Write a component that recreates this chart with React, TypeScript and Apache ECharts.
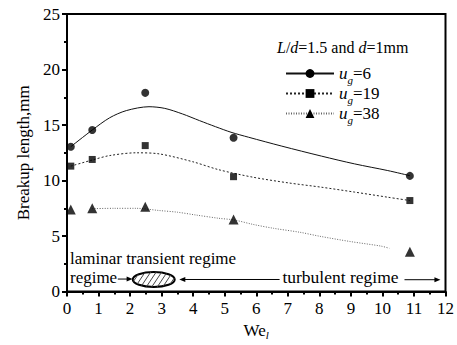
import React, { useEffect, useRef } from "react";
import * as echarts from "echarts";

const FONT = "Liberation Serif";

// Axis ranges and tick steps
const X_MIN = 0;
const X_MAX = 12;
const X_STEP = 1;
const Y_MIN = 0;
const Y_MAX = 25;
const Y_STEP = 5;

// Measured breakup length (mm) against liquid Weber number We_l
const weL = [0.12, 0.8, 2.48, 5.28, 10.87];
const lenUg6 = [13.05, 14.55, 17.9, 13.85, 10.42];
const lenUg19 = [11.3, 11.9, 13.15, 10.35, 8.2];
const lenUg38 = [7.4, 7.5, 7.65, 6.5, 3.6];

// Trend curves through each gas-velocity set
const fit6We = [0.12, 0.8, 1.35, 1.88, 2.6, 3.1, 3.66, 4.2, 4.71, 5.2, 5.76, 6.81, 8.07, 9.12, 10.17, 10.87];
const fit6Len = [13.05, 14.55, 15.65, 16.3, 16.65, 16.5, 16.0, 15.4, 14.85, 14.35, 13.9, 13.1, 12.2, 11.5, 10.9, 10.44];
const fit19We = [0.12, 0.8, 1.35, 2.2, 2.93, 3.98, 4.82, 5.9, 7.02, 8.07, 9.12, 10.17, 10.87];
const fit19Len = [11.3, 11.85, 12.25, 12.5, 12.4, 11.7, 10.97, 10.3, 9.79, 9.4, 8.96, 8.5, 8.2];
const fit38We = [0.8, 1.5, 2.2, 2.93, 3.5, 4.08, 4.82, 5.3, 5.9, 6.55, 7.39, 8.02, 9.0, 9.95, 10.22];
const fit38Len = [7.47, 7.5, 7.5, 7.3, 7.15, 6.9, 6.6, 6.45, 6.05, 5.7, 5.34, 4.98, 4.5, 4.1, 3.9];

// Gas velocities shown in the legend
const ugValues = ["6", "19", "38"];
const seriesNames = ugValues.map((v) => `ug=${v}`);

const zip = (xs: number[], ys: number[]) => xs.map((x, i) => [x, ys[i]]);

export default function App() {
  const ref = useRef<HTMLDivElement>(null);

  useEffect(() => {
    if (!ref.current) return;
    const chart = echarts.init(ref.current, null, { renderer: "svg" });

    const axisCommon = {
      type: "value" as const,
      axisLine: { show: true, lineStyle: { color: "#000", width: 2 } },
      axisTick: { show: true, inside: false, length: 5, lineStyle: { color: "#000", width: 2 } },
      minorTick: { show: true, splitNumber: 2, length: 3, lineStyle: { color: "#000", width: 2 } },
      splitLine: { show: false },
      axisLabel: { color: "#000", fontFamily: FONT, fontSize: 17 },
    };

    const symbols = ["circle", "rect", "triangle"];
    const pointSizes = [8, 7, 10];
    const fits = [zip(fit6We, fit6Len), zip(fit19We, fit19Len), zip(fit38We, fit38Len)];
    const points = [zip(weL, lenUg6), zip(weL, lenUg19), zip(weL, lenUg38)];
    const lineStyles = [
      { color: "#111", width: 1, type: "solid" },
      { color: "#222", width: 1, type: [2, 2] },
      { color: "#666", width: 1, type: [1, 1.5] },
    ];

    const curveSeries = fits.map((d, i) => ({
      name: seriesNames[i],
      type: "line",
      data: d,
      smooth: 0.3,
      symbol: symbols[i],
      symbolSize: pointSizes[i],
      showSymbol: false,
      lineStyle: lineStyles[i],
      itemStyle: { color: "#000" },
      z: 2,
    }));
    const pointSeries = points.map((d, i) => ({
      name: `${seriesNames[i]} data`,
      type: "scatter",
      data: d,
      symbol: symbols[i],
      symbolSize: pointSizes[i],
      itemStyle: { color: "#000" },
      z: 3,
    }));

    chart.setOption({
      animation: false,
      backgroundColor: "#fff",
      textStyle: { fontFamily: FONT },
      grid: {
        left: 67,
        right: 9,
        top: 14,
        bottom: 50,
        show: true,
        borderColor: "#000",
        borderWidth: 2,
      },
      xAxis: {
        ...axisCommon,
        min: X_MIN,
        max: X_MAX,
        interval: X_STEP,
        axisLabel: { ...axisCommon.axisLabel, margin: 8 },
        name: "{a|We}{b|l}",
        nameLocation: "middle",
        nameGap: 28,
        nameTextStyle: {
          fontFamily: FONT,
          rich: {
            a: { fontFamily: FONT, fontSize: 17, color: "#000", lineHeight: 20 },
            b: { fontFamily: FONT, fontSize: 11, fontStyle: "italic", color: "#000", lineHeight: 8, verticalAlign: "bottom" },
          },
        },
      },
      yAxis: {
        ...axisCommon,
        min: Y_MIN,
        max: Y_MAX,
        interval: Y_STEP,
        axisLabel: { ...axisCommon.axisLabel, margin: 7 },
        name: "Breakup length,mm",
        nameLocation: "middle",
        nameGap: 35,
        nameTextStyle: { fontFamily: FONT, fontSize: 17, color: "#000" },
      },
      legend: {
        data: seriesNames,
        orient: "vertical",
        left: 280,
        top: 60,
        itemGap: 0,
        itemWidth: 48,
        itemHeight: 11,
        formatter: (name: string) => `{u|u}{g|g}{v|=${name.split("=")[1]}}`,
        textStyle: {
          fontFamily: FONT,
          color: "#000",
          rich: {
            u: { fontFamily: FONT, fontSize: 17, fontStyle: "italic", color: "#000", lineHeight: 23 },
            g: { fontFamily: FONT, fontSize: 11, fontStyle: "italic", color: "#000", lineHeight: 9, verticalAlign: "bottom" },
            v: { fontFamily: FONT, fontSize: 17, color: "#000", lineHeight: 23 },
          },
        },
      },
      series: [...curveSeries, ...pointSeries],
    });

    // Regime annotations, placed in data units
    const toPx = (x: number, y: number) => chart.convertToPixel({ gridIndex: 0 }, [x, y]) as number[];
    const textStyle = { fontFamily: FONT, fontSize: 17, fill: "#000" };

    const arrow = (from: number[], to: number[]) => {
      const [x1, y1] = toPx(from[0], from[1]);
      const [x2, y2] = toPx(to[0], to[1]);
      const dir = Math.sign(x2 - x1);
      const head = 6;
      const half = 2.5;
      return [
        { type: "line", shape: { x1, y1, x2: x2 - dir * head * 0.5, y2 }, style: { stroke: "#000", lineWidth: 1 }, z: 10 },
        {
          type: "polygon",
          shape: { points: [[x2, y2], [x2 - dir * head, y2 - half], [x2 - dir * head, y2 + half]] },
          style: { fill: "#000" },
          z: 10,
        },
      ];
    };

    const [ecx, ecy] = toPx(2.75, 1.09);
    const rx = 21;
    const ry = 7.5;
    const k = 1.5;
    const hatch: any[] = [];
    const A = 1 / (rx * rx) + (k * k) / (ry * ry);
    for (let c = -30; c <= 30; c += 5.5) {
      const B = (2 * c) / (rx * rx);
      const C = (c * c) / (rx * rx) - 1;
      const disc = B * B - 4 * A * C;
      if (disc <= 0) continue;
      const t1 = (-B - Math.sqrt(disc)) / (2 * A);
      const t2 = (-B + Math.sqrt(disc)) / (2 * A);
      hatch.push({
        type: "line",
        shape: { x1: ecx + c + t1, y1: ecy - k * t1, x2: ecx + c + t2, y2: ecy - k * t2 },
        style: { stroke: "#444", lineWidth: 1 },
        z: 10,
      });
    }

    const [lamX, lamY] = toPx(0.094, 3.0);
    const [regX, regY] = toPx(0.094, 1.31);
    const [turX, turY] = toPx(6.83, 1.31);

    chart.setOption({
      graphic: [
        {
          type: "text",
          left: 277,
          top: 39,
          style: {
            text: "{i|L}{r|/}{i|d}{r|=1.5 and }{i|d}{r|=1mm}",
            rich: {
              i: { fontFamily: FONT, fontSize: 16, fontStyle: "italic", fill: "#000" },
              r: { fontFamily: FONT, fontSize: 16, fill: "#000" },
            },
          },
        },
        { type: "text", x: lamX, y: lamY, style: { ...textStyle, text: "laminar transient regime", verticalAlign: "middle" }, z: 10 },
        { type: "text", x: regX, y: regY, style: { ...textStyle, text: "regime", verticalAlign: "middle" }, z: 10 },
        { type: "text", x: turX, y: turY, style: { ...textStyle, text: "turbulent regime", fontSize: 17.5, verticalAlign: "middle" }, z: 10 },
        { type: "ellipse", shape: { cx: ecx, cy: ecy, rx, ry }, style: { fill: "#fff", stroke: "#000", lineWidth: 2 }, z: 9 },
        ...hatch,
        ...arrow([1.61, 1.13], [2.08, 1.13]),
        ...arrow([6.74, 1.09], [3.56, 1.09]),
        ...arrow([10.7, 1.07], [11.84, 1.07]),
      ],
    });

    return () => chart.dispose();
  }, []);

  return <div ref={ref} style={{ position: "fixed", left: 0, top: 0, width: 457, height: 345 }} />;
}
